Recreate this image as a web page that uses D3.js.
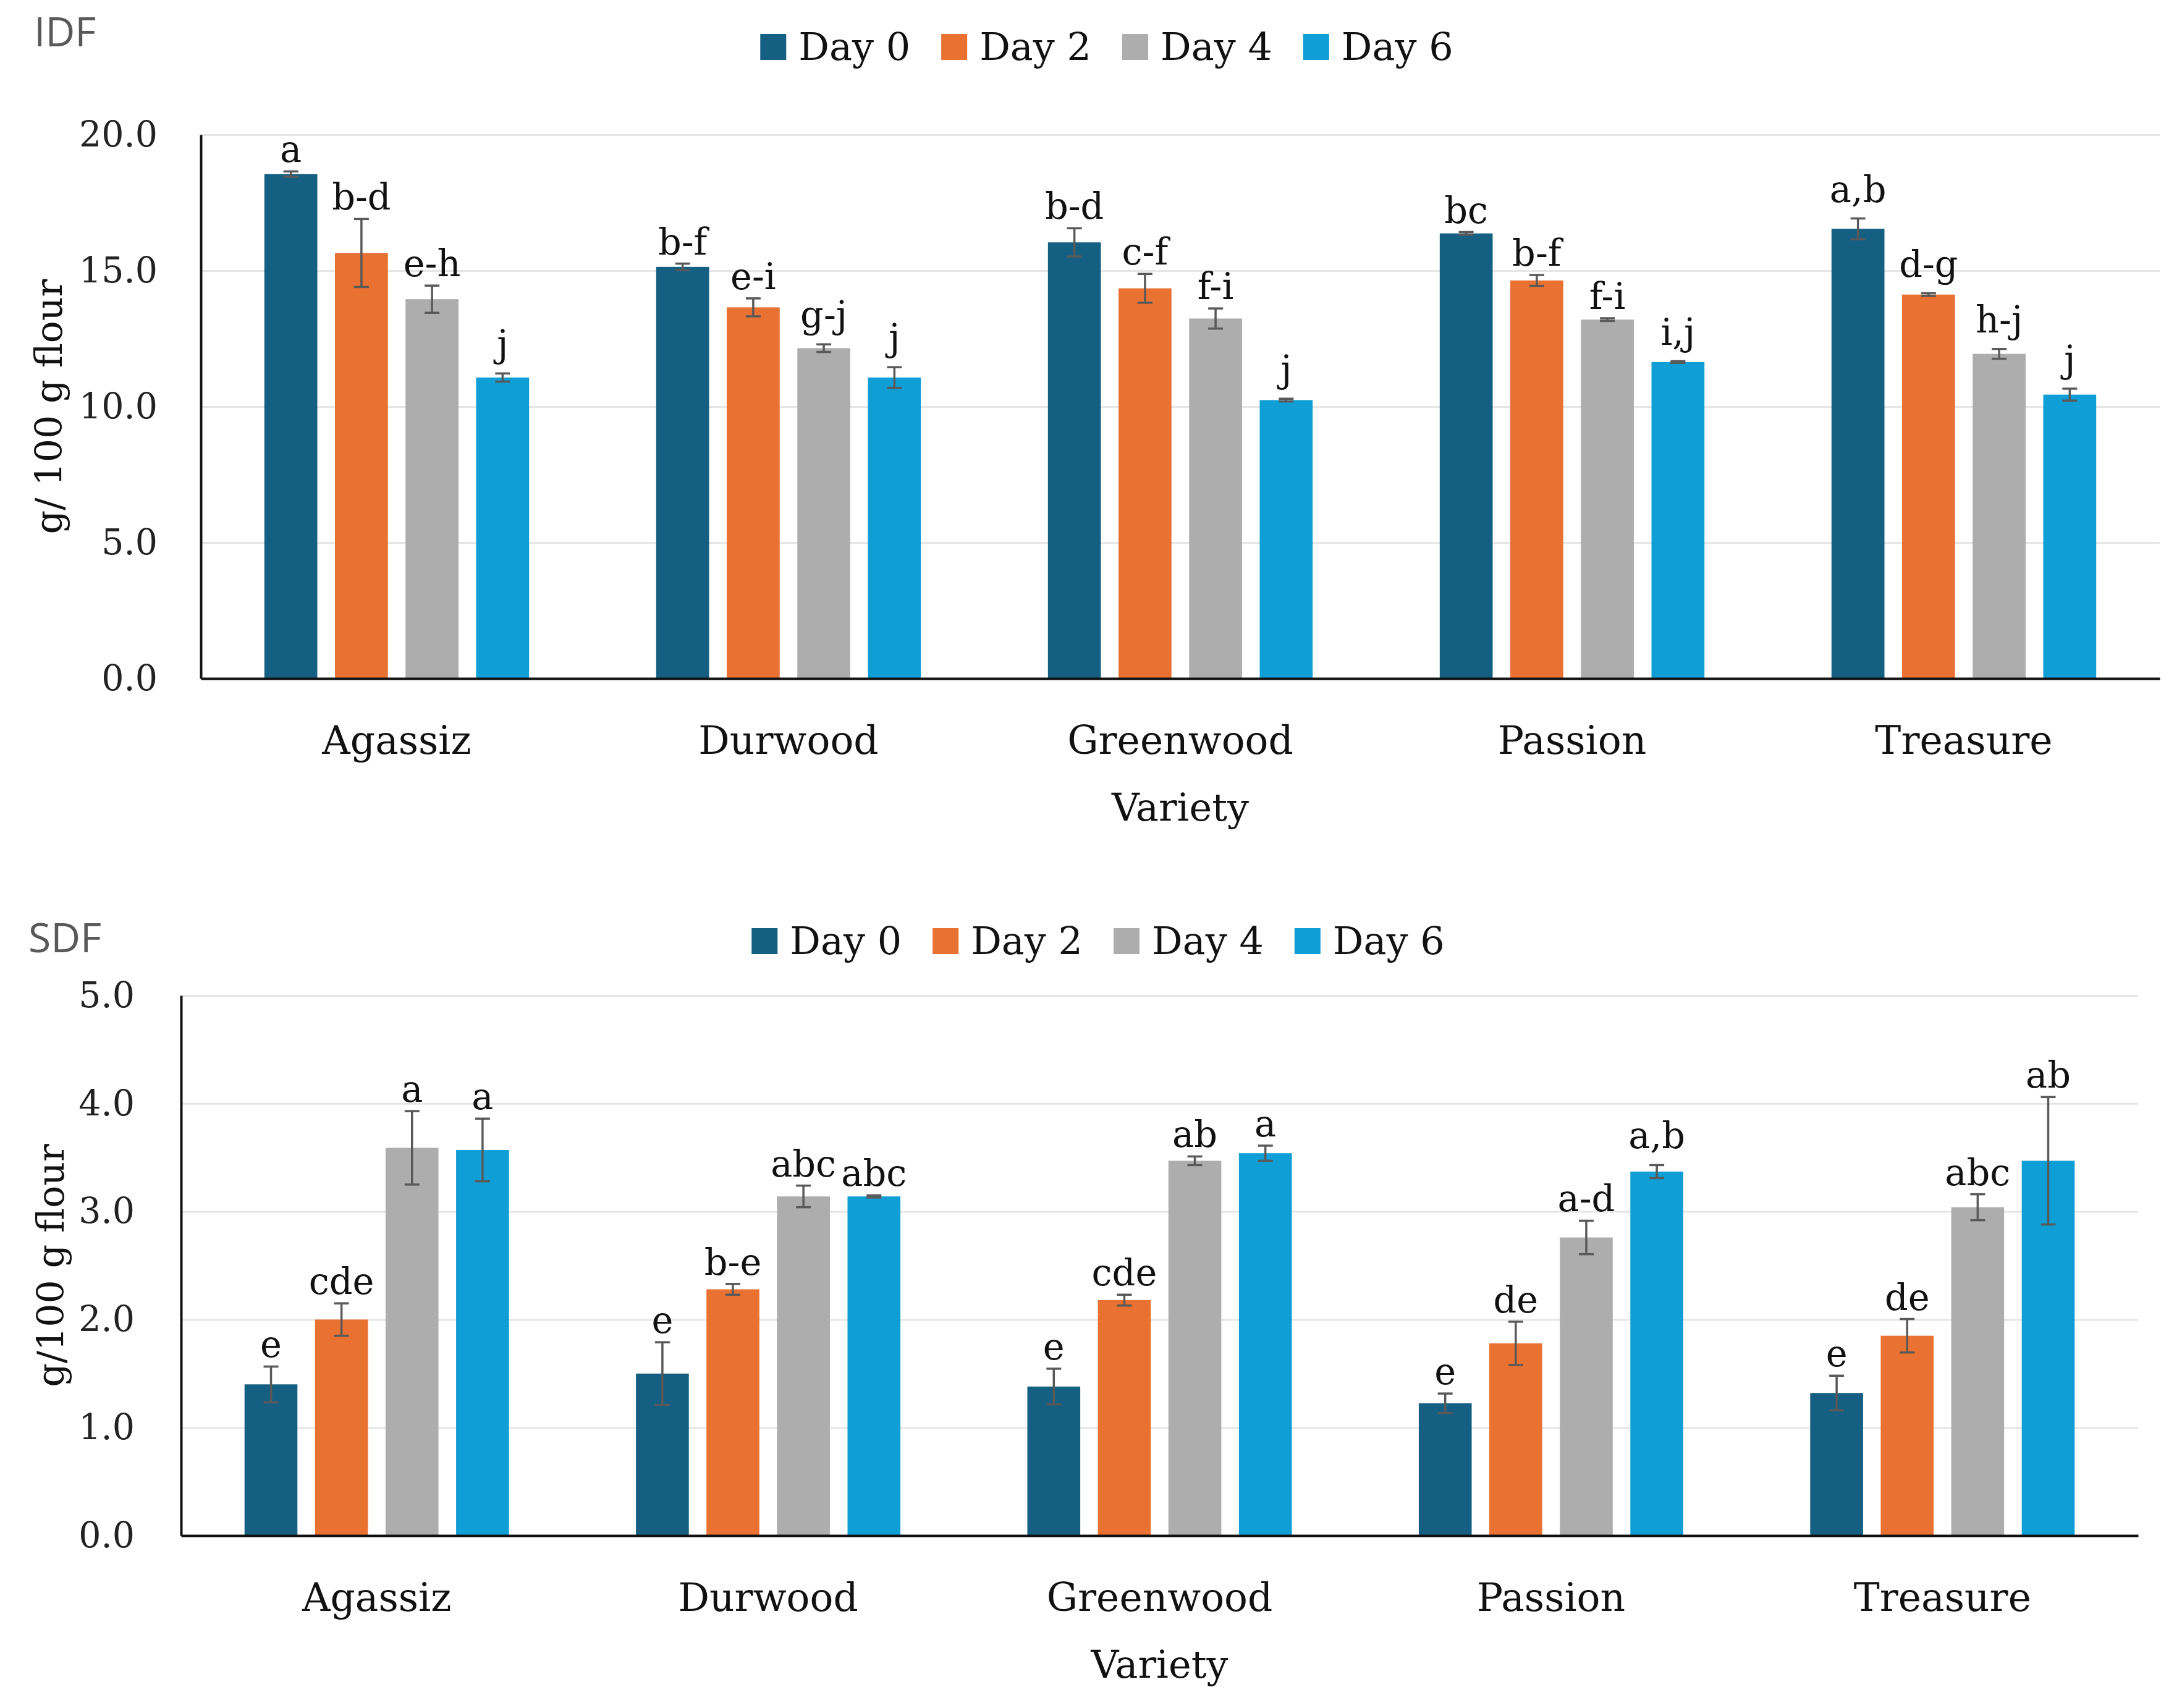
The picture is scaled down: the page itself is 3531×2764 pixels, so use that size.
<!DOCTYPE html>
<html>
<head>
<meta charset="utf-8">
<script src="https://cdn.jsdelivr.net/npm/d3@7"></script>
<style>
  body { margin: 0; background: #fff; }
  svg { display: block; }
</style>
</head>
<body>
<div class="canvas"></div>
<script>
// categories and series
const varieties = ['Agassiz', 'Durwood', 'Greenwood', 'Passion', 'Treasure'];
const days = ['Day 0', 'Day 2', 'Day 4', 'Day 6'];
const dayColors = ['#156082', '#E97132', '#ADADAD', '#0F9ED5'];

// IDF (g/100 g flour), rows = variety, cols = day
const idfMeans = [
    [18.55, 15.65, 13.95, 11.07],
    [15.14, 13.65, 12.15, 11.07],
    [16.04, 14.35, 13.24, 10.24],
    [16.37, 14.64, 13.20, 11.64],
    [16.54, 14.12, 11.94, 10.44]
];
const idfErrors = [
    [0.10, 1.25, 0.50, 0.15],
    [0.12, 0.33, 0.14, 0.38],
    [0.52, 0.53, 0.37, 0.05],
    [0.05, 0.20, 0.05, 0.03],
    [0.38, 0.05, 0.18, 0.22]
];
const idfLetters = [
    ['a', 'b-d', 'e-h', 'j'],
    ['b-f', 'e-i', 'g-j', 'j'],
    ['b-d', 'c-f', 'f-i', 'j'],
    ['bc', 'b-f', 'f-i', 'i,j'],
    ['a,b', 'd-g', 'h-j', 'j']
];
const idfTicks = [0, 5, 10, 15, 20];

// SDF (g/100 g flour)
const sdfMeans = [
    [1.40, 2.00, 3.59, 3.57],
    [1.50, 2.28, 3.14, 3.14],
    [1.38, 2.18, 3.47, 3.54],
    [1.225, 1.78, 2.76, 3.37],
    [1.32, 1.85, 3.04, 3.47]
];
const sdfErrors = [
    [0.165, 0.15, 0.34, 0.29],
    [0.29, 0.05, 0.10, 0.01],
    [0.165, 0.05, 0.04, 0.07],
    [0.09, 0.20, 0.155, 0.06],
    [0.16, 0.155, 0.12, 0.59]
];
const sdfLetters = [
    ['e', 'cde', 'a', 'a'],
    ['e', 'b-e', 'abc', 'abc'],
    ['e', 'cde', 'ab', 'a'],
    ['e', 'de', 'a-d', 'a,b'],
    ['e', 'de', 'abc', 'ab']
];
const sdfTicks = [0, 1, 2, 3, 4, 5];

const W = 3531, H = 2764;
const serif = "'DejaVu Serif', serif";

const svg = d3.select('.canvas')
    .append('svg')
    .attr('width', W)
    .attr('height', H);

svg.append('rect').attr('width', W).attr('height', H).attr('fill', '#fff');

function drawChart(opt) {
    const x0 = d3.scaleBand()
        .domain(varieties)
        .range([opt.left, opt.right]);

    const x1 = d3.scaleBand()
        .domain(days)
        .range([0, x0.bandwidth()])
        .paddingInner(0.25)
        .paddingOuter(0.9);

    const y = d3.scaleLinear()
        .domain([0, opt.max])
        .range([opt.bottom, opt.top]);

    const g = svg.append('g');

    // title (IDF / SDF)
    g.append('text')
        .attr('x', opt.titleX)
        .attr('y', opt.titleY)
        .attr('font-family', "'Open Sans', sans-serif")
        .attr('font-size', 66)
        .attr('fill', '#595959')
        .text(opt.title);

    // gridlines
    const grid = g.append('g')
        .attr('transform', `translate(${opt.left},0)`)
        .call(d3.axisLeft(y).tickValues(opt.ticks.slice(1)).tickSize(-(opt.right - opt.left)).tickFormat(''));
    grid.select('.domain').remove();
    grid.selectAll('line').attr('stroke', '#E6E6E6').attr('stroke-width', 3);

    // bars
    const rows = varieties.map((v, i) => days.map((d, j) => ({
        variety: v, day: d, j: j,
        mean: opt.means[i][j], err: opt.errors[i][j], letter: opt.letters[i][j]
    })));

    const groups = g.selectAll('g.grp')
        .data(rows)
        .enter()
        .append('g')
        .attr('class', 'grp')
        .attr('transform', d => `translate(${x0(d[0].variety)},0)`);

    groups.selectAll('rect')
        .data(d => d)
        .enter()
        .append('rect')
        .attr('x', d => x1(d.day))
        .attr('width', x1.bandwidth())
        .attr('y', d => y(d.mean))
        .attr('height', d => y(0) - y(d.mean))
        .attr('fill', d => dayColors[d.j]);

    // error bars
    const eb = groups.selectAll('g.err')
        .data(d => d)
        .enter()
        .append('g')
        .attr('class', 'err')
        .attr('stroke', '#595959')
        .attr('stroke-width', 3.5);
    const cx = d => x1(d.day) + x1.bandwidth() / 2;
    eb.append('line')
        .attr('x1', cx).attr('x2', cx)
        .attr('y1', d => y(d.mean - d.err)).attr('y2', d => y(d.mean + d.err));
    eb.append('line')
        .attr('x1', d => cx(d) - 12).attr('x2', d => cx(d) + 12)
        .attr('y1', d => y(d.mean + d.err)).attr('y2', d => y(d.mean + d.err));
    eb.append('line')
        .attr('x1', d => cx(d) - 12).attr('x2', d => cx(d) + 12)
        .attr('y1', d => y(d.mean - d.err)).attr('y2', d => y(d.mean - d.err));

    // letters above bars
    groups.selectAll('text.lab')
        .data(d => d)
        .enter()
        .append('text')
        .attr('class', 'lab')
        .attr('x', cx)
        .attr('y', d => y(d.mean + d.err) - 15 - (/[jg,]/.test(d.letter) ? 12 : 0))
        .attr('text-anchor', 'middle')
        .attr('font-family', serif)
        .attr('font-size', 59)
        .attr('fill', '#111')
        .text(d => d.letter);

    // y axis
    const yAxis = g.append('g')
        .attr('transform', `translate(${opt.left},0)`)
        .call(d3.axisLeft(y).tickValues(opt.ticks).tickFormat(d3.format('.1f')).tickSize(0).tickPadding(opt.tickPad));
    yAxis.select('.domain').attr('stroke', '#111').attr('stroke-width', 4);
    yAxis.selectAll('text')
        .attr('font-family', serif)
        .attr('font-size', 57)
        .attr('fill', '#222');

    // x axis
    const xAxis = g.append('g')
        .attr('transform', `translate(0,${opt.bottom})`)
        .call(d3.axisBottom(x0).tickSize(0).tickSizeOuter(0));
    xAxis.select('.domain').attr('stroke', '#111').attr('stroke-width', 4);
    xAxis.selectAll('text')
        .attr('y', 122)
        .attr('dy', 0)
        .attr('font-family', serif)
        .attr('font-size', 63)
        .attr('fill', '#111');

    // axis titles
    g.append('text')
        .attr('x', (opt.left + opt.right) / 2)
        .attr('y', opt.bottom + 230)
        .attr('text-anchor', 'middle')
        .attr('font-family', serif)
        .attr('font-size', 62)
        .attr('fill', '#111')
        .text('Variety');

    g.append('text')
        .attr('transform', `translate(${opt.yTitleX},${(opt.top + opt.bottom) / 2}) rotate(-90)`)
        .attr('text-anchor', 'middle')
        .attr('font-family', serif)
        .attr('font-size', 60)
        .attr('fill', '#111')
        .text(opt.yTitle);

    // legend
    const leg = g.append('g');
    let lx = 0;
    days.forEach((d, j) => {
        const item = leg.append('g').attr('transform', `translate(${lx},0)`);
        item.append('rect')
            .attr('x', 0).attr('y', -42)
            .attr('width', 42).attr('height', 42)
            .attr('fill', dayColors[j]);
        const t = item.append('text')
            .attr('x', 62).attr('y', 0)
            .attr('font-family', serif)
            .attr('font-size', 62)
            .attr('fill', '#111')
            .text(d);
        lx += 62 + t.node().getComputedTextLength() + 50;
    });
    const legW = lx - 50;
    leg.attr('transform', `translate(${opt.legendCx - legW / 2},${opt.legendY})`);
}

drawChart({
    title: 'IDF', titleX: 55, titleY: 75,
    means: idfMeans, errors: idfErrors, letters: idfLetters,
    ticks: idfTicks, max: 20,
    left: 325, right: 3495, top: 218, bottom: 1098,
    tickPad: 70, yTitle: 'g/ 100 g flour', yTitleX: 100,
    legendCx: 1791, legendY: 97
});

drawChart({
    title: 'SDF', titleX: 46, titleY: 1541,
    means: sdfMeans, errors: sdfErrors, letters: sdfLetters,
    ticks: sdfTicks, max: 5,
    left: 293, right: 3460, top: 1611, bottom: 2485,
    tickPad: 75, yTitle: 'g/100 g flour', yTitleX: 103,
    legendCx: 1777, legendY: 1544
});
</script>
</body>
</html>
